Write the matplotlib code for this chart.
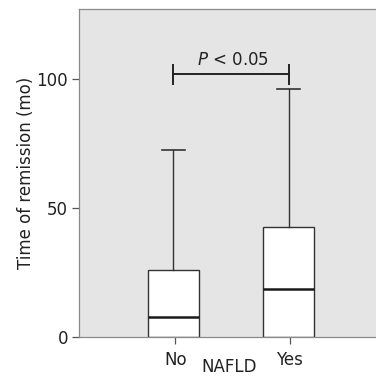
import matplotlib
matplotlib.use("Agg")
import matplotlib.pyplot as plt

categories = ["No", "Yes"]
whisker_low = [0.0, 0.0]
q1 = [0.0, 0.0]
median = [7.6, 18.6]
q3 = [26.1, 42.6]
whisker_high = [72.6, 96.1]
y_ticks = [0, 50, 100]
sig_text = r"$\it{P}$ < 0.05"
sig_level = 102

plt.rcParams['font.family'] = ['DejaVu Sans']
plt.rcParams['mathtext.fontset'] = 'dejavusans'

fig = plt.figure(figsize=(3.76, 3.78), dpi=100)
ax = fig.add_axes([0.2101, 0.1085, 0.80, 0.8675])
ax.set_facecolor('#e5e5e5')

stats = []
for i, c in enumerate(categories):
    stats.append(dict(label=c, whislo=whisker_low[i], q1=q1[i], med=median[i],
                      q3=q3[i], whishi=whisker_high[i], fliers=[]))

ec = '#333333'
res = ax.bxp(stats, positions=[1, 2], widths=0.44, patch_artist=True, showfliers=False,
             boxprops=dict(facecolor='white', edgecolor=ec, linewidth=1.0),
             medianprops=dict(color='#1a1a1a', linewidth=1.8),
             whiskerprops=dict(color=ec, linewidth=1.0),
             capprops=dict(color=ec, linewidth=1.2),
             capwidths=0.2)
for cap in res['caps'][0::2]:
    cap.set_visible(False)

ax.set_xlim(0.184, 2.79)
ax.set_ylim(0, 127)
ax.set_yticks(y_ticks)
ax.set_xticks([1.02, 2.01])
ax.set_xticklabels(categories, fontsize=12)
ax.tick_params(axis='both', direction='out', length=5, width=0.9, color='#555555',
               labelsize=12, labelcolor='#222222', pad=3)
ax.tick_params(axis='x', pad=5)

for s in ['left', 'bottom', 'top', 'right']:
    ax.spines[s].set_color('#8a8a8a')
    ax.spines[s].set_linewidth(0.9)

ax.set_ylabel("Time of remission (mo)", fontsize=12, color='#222222', labelpad=1)
ax.set_xlabel("NAFLD", fontsize=12, color='#222222', labelpad=-8)

# significance bracket
x1, x2 = 1.0, 2.0
ax.plot([x1, x2], [sig_level, sig_level], color='#222222', lw=1.4)
ax.plot([x1, x1], [sig_level - 4, sig_level + 3.5], color='#222222', lw=1.4)
ax.plot([x2, x2], [sig_level - 4, sig_level + 3.5], color='#222222', lw=1.4)
ax.text((x1 + x2) / 2 + 0.02, sig_level + 1.6, sig_text, ha='center', va='bottom',
        fontsize=12, color='#222222')

fig.savefig("out.png", dpi=100)
